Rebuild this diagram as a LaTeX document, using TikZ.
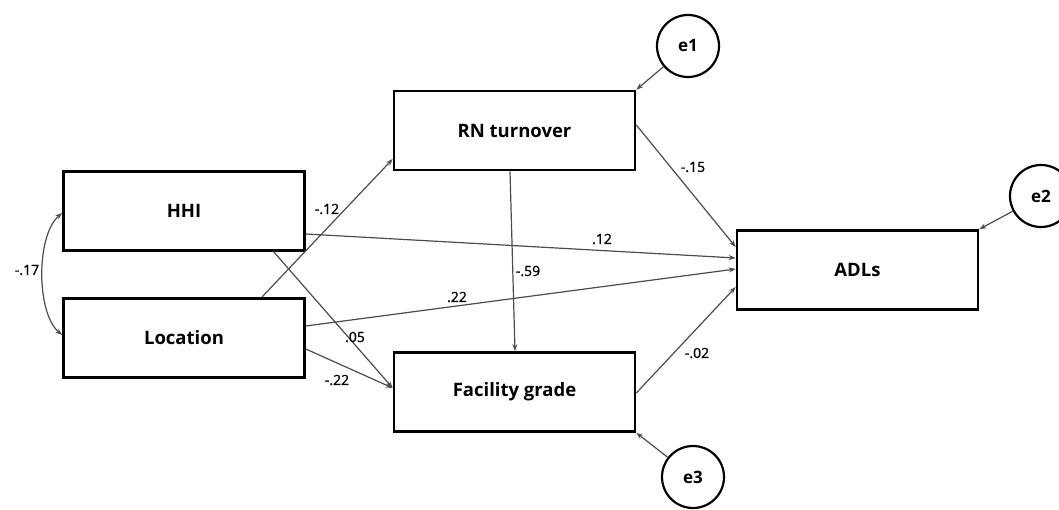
\documentclass[tikz,border=0pt]{standalone}
\usepackage{fontspec}
\setmainfont{Open Sans}
\newfontfamily\coeffont[FakeBold=1.2]{Open Sans}
\usetikzlibrary{arrows.meta}
\tikzset{
  box/.style={draw=black, line width=2.6pt, minimum width=241pt, minimum height=79pt, inner sep=0pt, font=\fontsize{18.5}{21}\selectfont\bfseries},
  err/.style={draw=black, circle, line width=2.2pt, minimum size=62pt, inner sep=0pt, font=\fontsize{17}{20}\selectfont\bfseries},
  path/.style={draw=black!70, line width=1.2pt, -{Stealth[length=7pt,width=5pt]}},
  coef/.style={font=\coeffont\fontsize{14}{16}\selectfont, inner sep=1pt}
}
\begin{document}
\begin{tikzpicture}[x=1pt,y=-1pt]
\useasboundingbox (0,0) rectangle (1059,510);
\clip (0,0) rectangle (1059,510);
\node[box] (hhi) at (184,211) {HHI};
\node[box] (loc) at (184,338) {Location};
\node[box] (rn) at (514.5,130.5) {RN turnover};
\node[box] (fac) at (514.5,392) {Facility grade};
\node[box] (adl) at (857.5,270) {ADLs};
\node[err] (e1) at (688,46) {e1};
\node[err] (e2) at (1041,196) {e2};
\node[err] (e3) at (693,477) {e3};

\coordinate (rnc) at (rn.north east);
\coordinate (adc) at (adl.north east);
\coordinate (fcc) at (fac.south east);
\draw[path] (e1) -- (rnc);
\draw[path] (e2) -- (adc);
\draw[path] (e3) -- (fcc);

\draw[path] (hhi.east |- 0,234) -- (adl.west |- 0,258);
\draw[path] (loc.east |- 0,326) -- (adl.west |- 0,269);
\draw[path] (262,297) -- (rn.west |- 0,159);
\draw[path] (273,251) -- (fac.west |- 0,388);
\draw[path] (loc.east |- 0,349) -- (fac.west |- 0,388);
\draw[path] (rn.south -| 510,0) -- (fac.north -| 515,0);
\draw[path] (rn.east |- 0,125) -- (adl.west |- 0,247);
\draw[path] (fac.east |- 0,393) -- (adl.west |- 0,287);
\draw[path, {Stealth[length=7pt,width=5pt]}-{Stealth[length=7pt,width=5pt]}] (hhi.west |- 0,213) .. controls (36,235) and (36,313) .. (loc.west |- 0,335);

\node[coef] (c17) at (27,270) {-.17};
\node[coef] (c12a) at (327,209) {-.12};
\node[coef] (c05) at (355,337) {.05};
\node[coef] (c22a) at (337,380) {-.22};
\node[coef] (c12) at (602,239) {.12};
\node[coef] (c22) at (457,297) {.22};
\node[coef] (c59) at (528,271) {-.59};
\node[coef] (c15) at (693,167) {-.15};
\node[coef] (c02) at (697,353) {-.02};
\end{tikzpicture}
\end{document}
